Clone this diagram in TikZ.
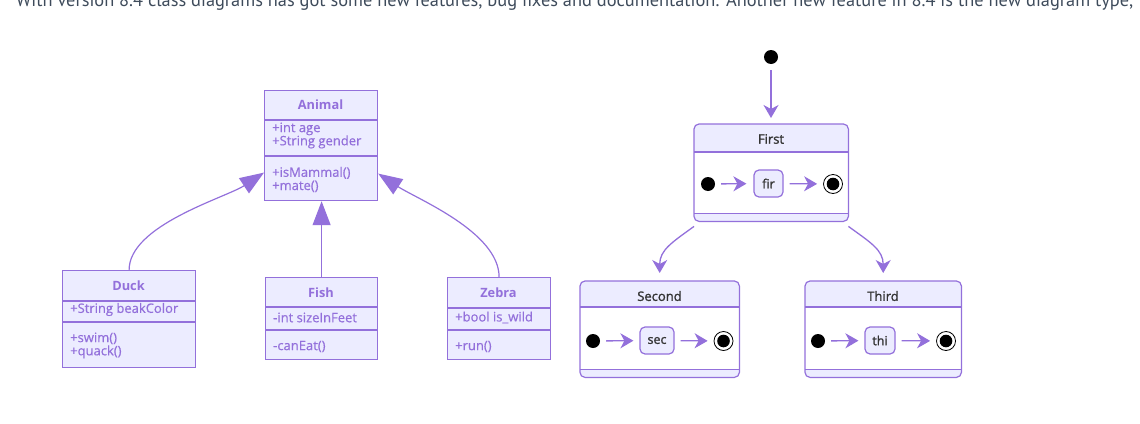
\documentclass[tikz,border=0pt]{standalone}
\usepackage{fontspec}
\usepackage{graphicx}
\setmainfont{Open Sans}
\newfontfamily\topfont{PT Sans}
\newfontfamily\memfont{Open Sans}[FakeBold=0.6]
\newfontfamily\stfont{Open Sans}[FakeBold=1.4]
\usetikzlibrary{arrows.meta}
\definecolor{mborder}{HTML}{9370DB}
\definecolor{mfill}{HTML}{ECECFF}
\definecolor{mtext}{HTML}{9370DB}
\definecolor{stext}{HTML}{333333}
\definecolor{toptext}{HTML}{3E4B5B}
\tikzset{
  classbox/.style={draw=mborder, fill=mfill, line width=1.2pt, inner sep=0pt, anchor=north west},
  sepline/.style={draw=mborder, line width=1.2pt},
  ctitle/.style={font=\fontsize{12.8}{14}\selectfont\bfseries, text=mtext, inner sep=0pt},
  cmem/.style={font=\memfont\fontsize{13}{13.2}\selectfont, text=mtext, anchor=west, align=left, inner sep=0pt},
  carrow/.style={draw=mborder, line width=1.2pt, -{Triangle[length=24pt,width=18pt]}},
  stateouter/.style={fill=mfill, rounded corners=5pt, inner sep=0pt, anchor=north west},
  stitle/.style={font=\stfont\fontsize{13}{15}\selectfont, text=stext, inner sep=0pt},
  innerst/.style={draw=mborder, fill=mfill, line width=1.2pt, rounded corners=5pt, minimum width=29pt, minimum height=27pt, inner sep=0pt, font=\stfont\fontsize{12.5}{14}\selectfont, text=stext},
  initdot/.style={circle, fill=black, minimum size=14pt, inner sep=0pt},
  finalst/.style={circle, draw=black, line width=0.8pt, fill=white, minimum size=19pt, inner sep=0pt,
    path picture={\fill[black] (path picture bounding box.center) circle (6.3pt);}},
  sarrow/.style={draw=mborder, line width=1.3pt, -{Stealth[length=13pt,width=15pt,inset=4pt]}},
}
\begin{document}
\begin{tikzpicture}[x=1pt,y=-1pt]
\useasboundingbox (0,0) rectangle (1140,423);
\clip (0,0) rectangle (1140,423);

% intro text (cut at the top)
\node[anchor=base west, inner sep=0pt, text=toptext, font=\topfont\fontsize{18}{20}\selectfont] (intro) at (16,6)
  {\resizebox{1117pt}{!}{With version 8.4 class diagrams has got some new features, bug fixes and documentation. Another new feature in 8.4 is the new diagram type,}};

% ---------- class diagram ----------
% Animal
\node[classbox, minimum width=113pt, minimum height=110pt] (animal) at (264,90) {};
\draw[sepline] ([yshift=-30pt]animal.north west) -- ([yshift=-30pt]animal.north east);
\draw[sepline] ([yshift=-66pt]animal.north west) -- ([yshift=-66pt]animal.north east);
\node[ctitle] (animalT) at (320.5,105) {Animal};
\node[cmem] (animalA) at (272,135.5) {+int age\\+String gender};
\node[cmem] (animalM) at (272,179.5) {+isMammal()\\+mate()};

% Duck
\node[classbox, minimum width=133pt, minimum height=97pt] (duck) at (62,270) {};
\draw[sepline] ([yshift=-31pt]duck.north west) -- ([yshift=-31pt]duck.north east);
\draw[sepline] ([yshift=-52pt]duck.north west) -- ([yshift=-52pt]duck.north east);
\node[ctitle] (duckT) at (128.5,286) {Duck};
\node[cmem] (duckA) at (70,309.5) {+String beakColor};
\node[cmem] (duckM) at (70,345.5) {+swim()\\+quack()};

% Fish
\node[classbox, minimum width=112pt, minimum height=82pt] (fish) at (265,277) {};
\draw[sepline] ([yshift=-30pt]fish.north west) -- ([yshift=-30pt]fish.north east);
\draw[sepline] ([yshift=-53pt]fish.north west) -- ([yshift=-53pt]fish.north east);
\node[ctitle] (fishT) at (321,293) {Fish};
\node[cmem] (fishA) at (273,317.5) {-int sizeInFeet};
\node[cmem] (fishM) at (273,346.5) {-canEat()};

% Zebra
\node[classbox, minimum width=103pt, minimum height=82pt] (zebra) at (447,277) {};
\draw[sepline] ([yshift=-31pt]zebra.north west) -- ([yshift=-31pt]zebra.north east);
\draw[sepline] ([yshift=-53pt]zebra.north west) -- ([yshift=-53pt]zebra.north east);
\node[ctitle] (zebraT) at (498.5,293) {Zebra};
\node[cmem] (zebraA) at (455,317.5) {+bool is\_wild};
\node[cmem] (zebraM) at (455,346.5) {+run()};

% inheritance connectors
\draw[carrow] (fish.north) -- (fish.north |- animal.south);
\draw[carrow] (duck.north) .. controls +(0,-45) and +(-38,25) .. ([yshift=-27pt]animal.west);
\draw[carrow] (zebra.north) .. controls +(0,-45) and +(38,25) .. ([yshift=-28pt]animal.east);

% ---------- state diagram ----------
% First
\node[stateouter, minimum width=154pt, minimum height=97pt] (first) at (694,124) {};
\fill[white] ([yshift=-28pt]first.north west) rectangle ([yshift=8pt]first.south east);
\draw[mborder, line width=1.2pt, rounded corners=5pt] (first.north west) rectangle (first.south east);
\draw[sepline] ([yshift=-28pt]first.north west) -- ([yshift=-28pt]first.north east);
\draw[sepline] ([yshift=8pt]first.south west) -- ([yshift=8pt]first.south east);
\node[stitle] (firstT) at (771,139) {First};

% Second
\node[stateouter, minimum width=159pt, minimum height=96pt] (second) at (580,281) {};
\fill[white] ([yshift=-26pt]second.north west) rectangle ([yshift=8pt]second.south east);
\draw[mborder, line width=1.2pt, rounded corners=5pt] (second.north west) rectangle (second.south east);
\draw[sepline] ([yshift=-26pt]second.north west) -- ([yshift=-26pt]second.north east);
\draw[sepline] ([yshift=8pt]second.south west) -- ([yshift=8pt]second.south east);
\node[stitle] (secondT) at (659.5,296) {Second};

% Third
\node[stateouter, minimum width=156pt, minimum height=96pt] (third) at (805,281) {};
\fill[white] ([yshift=-26pt]third.north west) rectangle ([yshift=8pt]third.south east);
\draw[mborder, line width=1.2pt, rounded corners=5pt] (third.north west) rectangle (third.south east);
\draw[sepline] ([yshift=-26pt]third.north west) -- ([yshift=-26pt]third.north east);
\draw[sepline] ([yshift=8pt]third.south west) -- ([yshift=8pt]third.south east);
\node[stitle] (thirdT) at (883,296) {Third};

% top initial
\node[initdot] (start) at (771,57) {};
\draw[sarrow, shorten <=6pt, shorten >=6pt] (start) -- (start |- first.north);

% inner of First
\node[initdot] (f0) at (708,184) {};
\node[innerst] (fir) at (768.5,183.5) {fir};
\node[finalst] (f1) at (833,184) {};
\draw[sarrow, shorten <=6pt, shorten >=7pt] (f0) -- (fir);
\draw[sarrow, shorten <=6pt, shorten >=6pt] (fir) -- (f1);

% inner of Second
\node[initdot] (s0) at (593,341) {};
\node[innerst, minimum width=34pt] (sec) at (657,340.5) {sec};
\node[finalst] (s1) at (723.5,341) {};
\draw[sarrow, shorten <=6pt, shorten >=6pt] (s0) -- (sec);
\draw[sarrow, shorten <=6pt, shorten >=6pt] (sec) -- (s1);

% inner of Third
\node[initdot] (t0) at (818,341) {};
\node[innerst, minimum width=30pt] (thi) at (880,340.5) {thi};
\node[finalst] (t1) at (946,341) {};
\draw[sarrow, shorten <=6pt, shorten >=6pt] (t0) -- (thi);
\draw[sarrow, shorten <=6pt, shorten >=6pt] (thi) -- (t1);

% transitions
\draw[sarrow] ([yshift=-5pt]first.south west) .. controls +(-22,16) and +(0,-23) .. ([yshift=8pt]second.north);
\draw[sarrow] ([yshift=-5pt]first.south east) .. controls +(22,16) and +(0,-23) .. ([yshift=8pt]third.north);
\end{tikzpicture}
\end{document}
